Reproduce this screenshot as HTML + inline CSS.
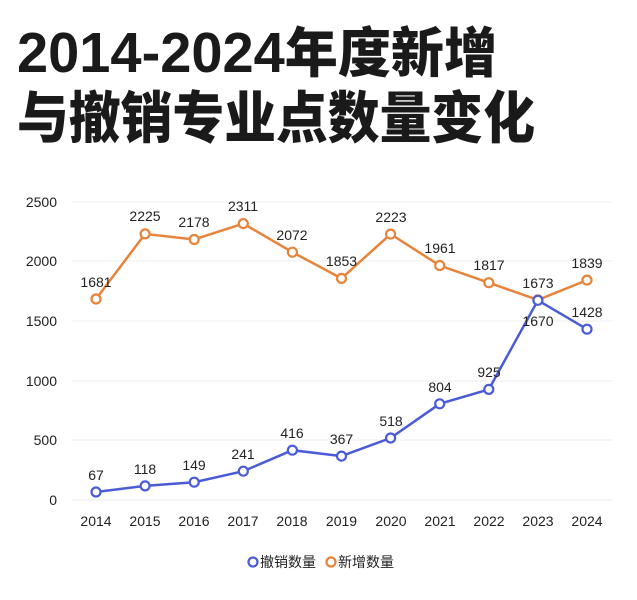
<!DOCTYPE html>
<html><head><meta charset="utf-8"><style>
body{margin:0;background:#fff;}
svg{display:block;font-family:"Liberation Sans","Noto Sans CJK SC",sans-serif;}
</style></head><body>
<svg width="637" height="600" viewBox="0 0 637 600">
<text x="17" y="72" font-weight="bold" fill="#1a1a1a" textLength="480" lengthAdjust="spacingAndGlyphs"><tspan font-family="'Liberation Sans',sans-serif" font-size="57">2014-2024</tspan><tspan font-family="'Noto Sans CJK SC',sans-serif" font-weight="900" font-size="54">年度新增</tspan></text>
<text x="17" y="138" font-size="56" font-weight="900" fill="#1a1a1a" font-family="'Noto Sans CJK SC',sans-serif" textLength="518" lengthAdjust="spacingAndGlyphs">与撤销专业点数量变化</text>
<g stroke="#ececec" stroke-width="1">
<line x1="72" x2="612" y1="202" y2="202"/><line x1="72" x2="612" y1="261" y2="261"/>
<line x1="72" x2="612" y1="321" y2="321"/><line x1="72" x2="612" y1="381" y2="381"/>
<line x1="72" x2="612" y1="440" y2="440"/><line x1="72" x2="612" y1="500" y2="500"/>
</g>
<g font-size="14" fill="#222" text-anchor="end">
<text x="57" y="207">2500</text><text x="57" y="266">2000</text><text x="57" y="326">1500</text>
<text x="57" y="386">1000</text><text x="57" y="445">500</text><text x="57" y="505">0</text>
</g>
<g font-size="14" fill="#222" text-anchor="middle">
<text x="96" y="526">2014</text><text x="145" y="526">2015</text><text x="194" y="526">2016</text><text x="243" y="526">2017</text><text x="292" y="526">2018</text><text x="341.5" y="526">2019</text><text x="391" y="526">2020</text><text x="440" y="526">2021</text><text x="489" y="526">2022</text><text x="538" y="526">2023</text><text x="587" y="526">2024</text>
</g>
<polyline fill="none" stroke="#E8833A" stroke-width="2.5" points="96,299 145.1,233.9 194.2,239.5 243.3,223.6 292.4,252.2 341.5,278.4 390.6,234.1 439.7,265.5 488.8,282.7 537.9,299.9 587,280.1"/>
<polyline fill="none" stroke="#4A5BD8" stroke-width="2.5" points="96,492 145.1,485.9 194.2,482.2 243.3,471.2 292.4,450.2 341.5,456.1 390.6,438 439.7,403.8 488.8,389.4 537.9,300.3 587,329.2"/>
<g fill="#fff" stroke="#E8833A" stroke-width="2.2">
<circle cx="96" cy="299" r="4.5"/><circle cx="145.1" cy="233.9" r="4.5"/><circle cx="194.2" cy="239.5" r="4.5"/><circle cx="243.3" cy="223.6" r="4.5"/><circle cx="292.4" cy="252.2" r="4.5"/><circle cx="341.5" cy="278.4" r="4.5"/><circle cx="390.6" cy="234.1" r="4.5"/><circle cx="439.7" cy="265.5" r="4.5"/><circle cx="488.8" cy="282.7" r="4.5"/><circle cx="537.9" cy="299.9" r="4.5"/><circle cx="587" cy="280.1" r="4.5"/>
</g>
<g fill="#fff" stroke="#4A5BD8" stroke-width="2.2">
<circle cx="96" cy="492" r="4.5"/><circle cx="145.1" cy="485.9" r="4.5"/><circle cx="194.2" cy="482.2" r="4.5"/><circle cx="243.3" cy="471.2" r="4.5"/><circle cx="292.4" cy="450.2" r="4.5"/><circle cx="341.5" cy="456.1" r="4.5"/><circle cx="390.6" cy="438" r="4.5"/><circle cx="439.7" cy="403.8" r="4.5"/><circle cx="488.8" cy="389.4" r="4.5"/><circle cx="537.9" cy="300.3" r="4.5"/><circle cx="587" cy="329.2" r="4.5"/>
</g>
<g font-size="14" fill="#222" text-anchor="middle">
<text x="96" y="287">1681</text><text x="145" y="221">2225</text><text x="194" y="227">2178</text><text x="243" y="211">2311</text><text x="292" y="240">2072</text><text x="341.5" y="266">1853</text><text x="391" y="222">2223</text><text x="440" y="253">1961</text><text x="489" y="270">1817</text><text x="538" y="288">1673</text><text x="587" y="268">1839</text>
<text x="96" y="480">67</text><text x="145" y="474">118</text><text x="194" y="470">149</text><text x="243" y="459">241</text><text x="292" y="438">416</text><text x="341.5" y="444">367</text><text x="391" y="426">518</text><text x="440" y="392">804</text><text x="489" y="377">925</text><text x="538" y="326">1670</text><text x="587" y="317">1428</text>
</g>
<circle cx="253" cy="562" r="4.5" fill="#fff" stroke="#4A5BD8" stroke-width="2.2"/>
<text x="260" y="567" font-size="14" fill="#222">撤销数量</text>
<circle cx="331" cy="562" r="4.5" fill="#fff" stroke="#E8833A" stroke-width="2.2"/>
<text x="338" y="567" font-size="14" fill="#222">新增数量</text>
</svg>
</body></html>
